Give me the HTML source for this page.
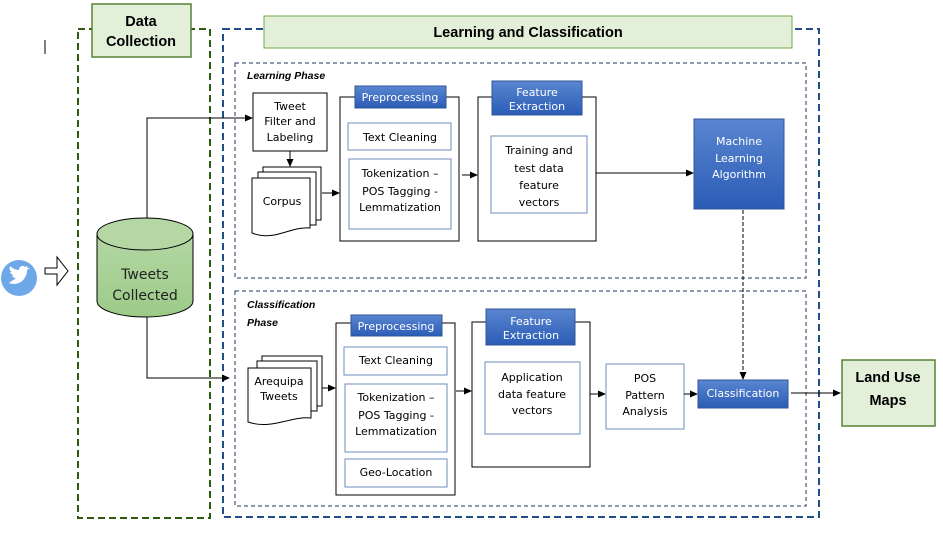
<!DOCTYPE html>
<html><head><meta charset="utf-8"><style>
body{margin:0;background:#fff}
text{font-family:"DejaVu Sans","Liberation Sans",sans-serif;font-size:11px;fill:#000}
.w{fill:#fff}
.b{font-weight:bold;font-family:"Liberation Sans",sans-serif}
.big{font-size:14.5px}
.ph{font-size:10.5px;font-style:italic}
.cy{font-size:14px;fill:#222}
</style></head><body>
<svg width="943" height="542" xmlns="http://www.w3.org/2000/svg">
<defs>
<marker id="a" markerWidth="8" markerHeight="8" refX="7" refY="4" orient="auto" markerUnits="userSpaceOnUse"><path d="M0,0.5 L8,4 L0,7.5z" fill="#000"/></marker>
<linearGradient id="bl" x1="0" y1="0" x2="0" y2="1"><stop offset="0" stop-color="#5a86d0"/><stop offset="1" stop-color="#2b5cb6"/></linearGradient>
<linearGradient id="gr" x1="0" y1="0" x2="0" y2="1"><stop offset="0" stop-color="#b4d7a4"/><stop offset="1" stop-color="#9ccb88"/></linearGradient>
</defs>
<line x1="45" y1="40" x2="45" y2="54" stroke="#000"/>
<rect x="78" y="29" width="132" height="489" fill="none" stroke="#2e5a12" stroke-width="2" stroke-dasharray="7,4"/>
<rect x="92" y="4" width="99" height="53" fill="#e2efd9" stroke="#548235" stroke-width="1.5"/>
<text x="141" y="26" text-anchor="middle" class="b big">Data</text>
<text x="141" y="46" text-anchor="middle" class="b big">Collection</text>
<rect x="223" y="29" width="596" height="488" fill="none" stroke="#1f4e8a" stroke-width="2" stroke-dasharray="7,4"/>
<rect x="264" y="16" width="528" height="32" fill="#e2efd9" stroke="#70ad47" stroke-width="1"/>
<text x="528" y="37" text-anchor="middle" class="b big">Learning and Classification</text>
<rect x="235" y="63" width="571" height="215" fill="none" stroke="#1f3a60" stroke-dasharray="4,3"/>
<rect x="235" y="291" width="571" height="215" fill="none" stroke="#1f3a60" stroke-dasharray="4,3"/>
<text x="247" y="79" class="b ph">Learning Phase</text>
<text x="247" y="308" class="b ph">Classification</text>
<text x="247" y="326" class="b ph">Phase</text>
<circle cx="19" cy="278" r="18" fill="#6fa8e8"/>
<path d="M9,283 C14,285 20,284 24,279 C27,275 27,272 27,270 L30,268 L27,268 L28,266 L25,267 C23,265 19,266 19,270 C15,270 12,268 10,266 C9,269 10,271 12,272 L10,272 C11,274 12,275 14,275 L12,276 C13,278 15,278 16,278 C14,280 11,281 9,283 Z" fill="#fff"/>
<path d="M45,268 H57 V257 L68,271 L57,285 V274 H45 Z" fill="#fff" stroke="#000"/>
<path d="M97,234 V301 A48,16 0 0 0 193,301 V234" fill="url(#gr)" stroke="#000"/>
<ellipse cx="145" cy="234" rx="48" ry="16" fill="#b4d7a4" stroke="#000"/>
<text x="145" y="279" text-anchor="middle" class="cy">Tweets</text>
<text x="145" y="300" text-anchor="middle" class="cy">Collected</text>
<path d="M147,218 V118 H252" fill="none" stroke="#000" marker-end="url(#a)"/>
<path d="M147,317 V378 H229" fill="none" stroke="#000" marker-end="url(#a)"/>
<rect x="253" y="93" width="74" height="58" fill="#fff" stroke="#000"/>
<text x="290" y="110" text-anchor="middle">Tweet</text>
<text x="290" y="125" text-anchor="middle">Filter and</text>
<text x="290" y="141" text-anchor="middle">Labeling</text>
<line x1="290" y1="151" x2="290" y2="166" stroke="#000" marker-end="url(#a)"/>
<rect x="263" y="167" width="58" height="53" fill="#fff" stroke="#000"/>
<rect x="258" y="172" width="58" height="53" fill="#fff" stroke="#000"/>
<path d="M252,178 H310 V228 C290,226 275,242 252,233 Z" fill="#fff" stroke="#000"/>
<text x="282" y="205" text-anchor="middle">Corpus</text>
<line x1="322" y1="193" x2="339" y2="193" stroke="#000" marker-end="url(#a)"/>
<rect x="340" y="97" width="119" height="144" fill="#fff" stroke="#000"/>
<rect x="355" y="86" width="91" height="22" fill="url(#bl)" stroke="#2f5597"/>
<text x="400" y="101" text-anchor="middle" class="w">Preprocessing</text>
<rect x="348" y="123" width="103" height="27" fill="#fff" stroke="#6c8ebf"/>
<text x="400" y="141" text-anchor="middle">Text Cleaning</text>
<rect x="349" y="159" width="102" height="70" fill="#fff" stroke="#6c8ebf"/>
<text x="400" y="177" text-anchor="middle">Tokenization –</text>
<text x="400" y="195" text-anchor="middle">POS Tagging -</text>
<text x="400" y="211" text-anchor="middle">Lemmatization</text>
<line x1="462" y1="175" x2="477" y2="175" stroke="#000" marker-end="url(#a)"/>
<rect x="478" y="97" width="118" height="144" fill="#fff" stroke="#000"/>
<rect x="492" y="81" width="90" height="34" fill="url(#bl)" stroke="#2f5597"/>
<text x="537" y="96" text-anchor="middle" class="w">Feature</text>
<text x="537" y="110" text-anchor="middle" class="w">Extraction</text>
<rect x="491" y="136" width="96" height="77" fill="#fff" stroke="#6c8ebf"/>
<text x="539" y="154" text-anchor="middle">Training and</text>
<text x="539" y="172" text-anchor="middle">test data</text>
<text x="539" y="189" text-anchor="middle">feature</text>
<text x="539" y="206" text-anchor="middle">vectors</text>
<line x1="596" y1="173" x2="693" y2="173" stroke="#000" marker-end="url(#a)"/>
<rect x="694" y="119" width="90" height="90" fill="url(#bl)" stroke="#2f5597"/>
<text x="739" y="145" text-anchor="middle" class="w">Machine</text>
<text x="739" y="162" text-anchor="middle" class="w">Learning</text>
<text x="739" y="178" text-anchor="middle" class="w">Algorithm</text>
<line x1="743" y1="210" x2="743" y2="379" stroke="#000" stroke-dasharray="4,2" marker-end="url(#a)"/>
<rect x="262" y="356" width="60" height="50" fill="#fff" stroke="#000"/>
<rect x="257" y="361" width="60" height="50" fill="#fff" stroke="#000"/>
<path d="M248,368 H311 V418 C290,416 272,430 248,422 Z" fill="#fff" stroke="#000"/>
<text x="279" y="385" text-anchor="middle">Arequipa</text>
<text x="279" y="400" text-anchor="middle">Tweets</text>
<line x1="322" y1="388" x2="335" y2="388" stroke="#000" marker-end="url(#a)"/>
<rect x="336" y="323" width="119" height="172" fill="#fff" stroke="#000"/>
<rect x="351" y="315" width="91" height="21" fill="url(#bl)" stroke="#2f5597"/>
<text x="396" y="330" text-anchor="middle" class="w">Preprocessing</text>
<rect x="344" y="347" width="103" height="28" fill="#fff" stroke="#6c8ebf"/>
<text x="396" y="364" text-anchor="middle">Text Cleaning</text>
<rect x="345" y="384" width="102" height="68" fill="#fff" stroke="#6c8ebf"/>
<text x="396" y="401" text-anchor="middle">Tokenization –</text>
<text x="396" y="419" text-anchor="middle">POS Tagging -</text>
<text x="396" y="435" text-anchor="middle">Lemmatization</text>
<rect x="345" y="459" width="102" height="28" fill="#fff" stroke="#6c8ebf"/>
<text x="396" y="476" text-anchor="middle">Geo-Location</text>
<line x1="456" y1="391" x2="471" y2="391" stroke="#000" marker-end="url(#a)"/>
<rect x="472" y="322" width="118" height="145" fill="#fff" stroke="#000"/>
<rect x="486" y="309" width="89" height="36" fill="url(#bl)" stroke="#2f5597"/>
<text x="531" y="325" text-anchor="middle" class="w">Feature</text>
<text x="531" y="339" text-anchor="middle" class="w">Extraction</text>
<rect x="485" y="362" width="95" height="72" fill="#fff" stroke="#6c8ebf"/>
<text x="532" y="381" text-anchor="middle">Application</text>
<text x="532" y="398" text-anchor="middle">data feature</text>
<text x="532" y="414" text-anchor="middle">vectors</text>
<line x1="590" y1="394" x2="605" y2="394" stroke="#000" marker-end="url(#a)"/>
<rect x="606" y="364" width="78" height="65" fill="#fff" stroke="#6c8ebf"/>
<text x="645" y="382" text-anchor="middle">POS</text>
<text x="645" y="399" text-anchor="middle">Pattern</text>
<text x="645" y="415" text-anchor="middle">Analysis</text>
<line x1="684" y1="394" x2="697" y2="394" stroke="#000" marker-end="url(#a)"/>
<rect x="698" y="380" width="90" height="28" fill="url(#bl)" stroke="#2f5597"/>
<text x="743" y="397" text-anchor="middle" class="w">Classification</text>
<line x1="791" y1="393" x2="840" y2="393" stroke="#000" marker-end="url(#a)"/>
<rect x="842" y="360" width="93" height="66" fill="#e2efd9" stroke="#548235" stroke-width="1.5"/>
<text x="888" y="382" text-anchor="middle" class="b big">Land Use</text>
<text x="888" y="405" text-anchor="middle" class="b big">Maps</text>
</svg>
</body></html>
